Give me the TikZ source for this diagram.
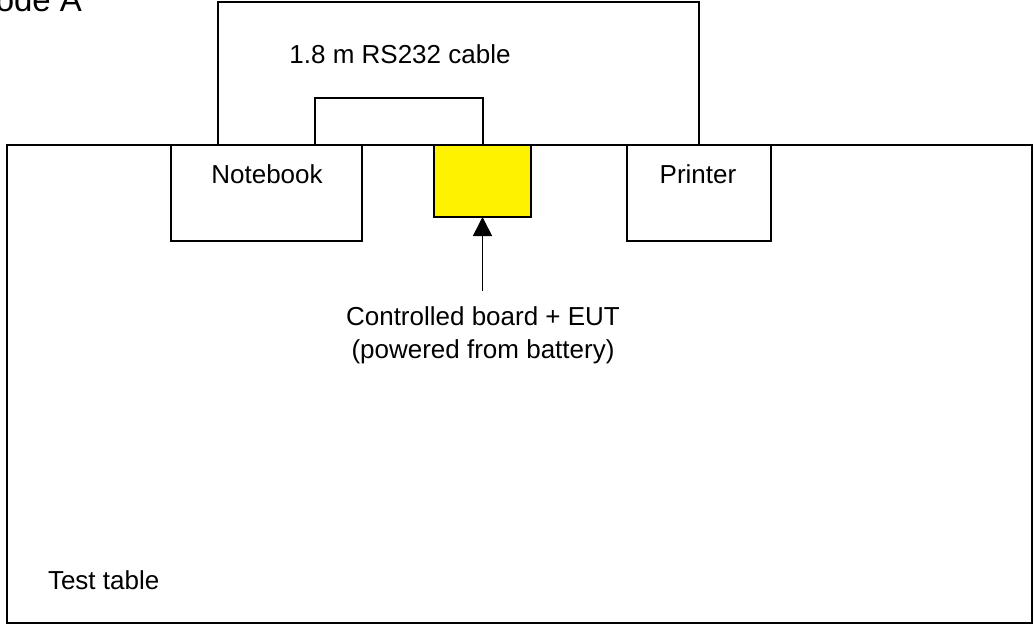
\documentclass[tikz,border=0pt]{standalone}
\usepackage{fontspec}
\setmainfont{Liberation Sans}
\usetikzlibrary{arrows.meta}
\begin{document}
\begin{tikzpicture}[x=1pt,y=-1pt,
  every node/.style={font=\fontsize{26}{33}\selectfont, inner sep=0pt, outer sep=0pt},
  box/.style={draw=black, line width=1.6pt, fill=white},
  wire/.style={draw=black, line width=1.6pt},
  lbl/.style={align=center}]
\useasboundingbox (0,0) rectangle (1035,627);
% test table
\draw[box] (7,145) rectangle (1032,623);
\node[anchor=base west] (tabletxt) at (48,589) {Test table};
% devices
\node[box, minimum width=191pt, minimum height=96pt, anchor=north west] (notebook) at (171,145) {};
\node[box, fill=yellow, minimum width=97pt, minimum height=72pt, anchor=north west] (eut) at (434,145) {};
\node[box, minimum width=144pt, minimum height=96pt, anchor=north west] (printer) at (627,145) {};
\node[anchor=base] (nbtxt) at (267,183) {Notebook};
\node[anchor=base] (prtxt) at (698,183) {Printer};
% cables
\draw[wire] ([xshift=47]notebook.north west) -- ++(0,-143) -| ([xshift=72]printer.north west);
\draw[wire] ([xshift=144]notebook.north west) -- ++(0,-47) -| ([xshift=49]eut.north west);
\node[anchor=base] (cabletxt) at (400,63) {1.8 m RS232 cable};
% label and arrow
\node[lbl, anchor=north] (label) at (483,307) {Controlled board + EUT\\(powered from battery)};
\coordinate (arrstart) at (482.5,291);
\draw[wire, -{Triangle[length=19pt,width=19pt]}] (arrstart) -- (eut.south);
% title (cropped)
\node[anchor=base east, font=\fontsize{33}{40}\selectfont] (title) at (82,11) {Mode A};
\end{tikzpicture}
\end{document}
